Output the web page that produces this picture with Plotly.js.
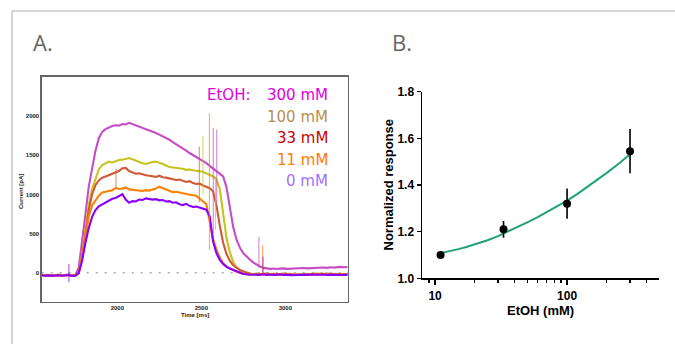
<!DOCTYPE html>
<html><head><meta charset="utf-8">
<script src="https://cdn.plot.ly/plotly-3.0.1.min.js"></script>
<style>html,body{margin:0;padding:0;background:#fff}#chart{width:675px;height:344px}</style>
</head><body><div id="chart"></div>
<script>
// ---------- Panel A: current traces (time in ms, current in pA) ----------
const timeMs = [1550,1570,1590,1610,1630,1650,1670,1690,1710,1730,1750,1770,1790,1810,1830,1850,1870,1890,1910,1930,
1950,1970,1990,2010,2030,2050,2070,2090,2110,2130,2150,2170,2190,2210,2230,2250,2270,2290,2310,2330,
2350,2370,2390,2410,2430,2450,2470,2490,2510,2530,2550,2570,2590,2610,2630,2650,2670,2690,2710,2730,
2750,2770,2790,2810,2830,2850,2870,2890,2910,2930,2950,2970,2990,3010,3030,3050,3070,3090,3110,3130,
3150,3170,3190,3210,3230,3250,3270,3290,3310,3330,3350,3370];

const current300 = [-25,-31,-27,-33,-29,-25,-32,-28,-23,-35,-30,60,380,740,1100,1350,1560,1720,1800,1835,
1860,1875,1885,1880,1900,1895,1915,1900,1880,1865,1850,1840,1820,1800,1785,1765,1745,1730,1700,1670,
1645,1615,1590,1560,1530,1505,1475,1450,1430,1400,1365,1330,1305,1265,1230,1090,850,580,420,320,
250,205,165,130,100,80,62,55,50,55,48,52,56,50,54,58,53,57,61,56,
60,64,59,63,67,62,70,66,72,75,70,74];

const current100 = [-28,-33,-29,-35,-31,-27,-34,-30,-26,-37,-32,-3,230,540,870,1070,1210,1320,1375,1400,
1420,1410,1430,1440,1445,1455,1465,1450,1430,1410,1400,1390,1405,1415,1420,1410,1390,1370,1350,1345,
1340,1335,1330,1315,1320,1310,1305,1300,1290,1270,1250,1230,1190,1070,760,440,260,135,70,35,
15,0,-10,-16,-12,-18,-14,-10,-17,-13,-19,-15,-11,-18,-14,-20,-16,-12,-17,-14,
-19,-13,-16,-20,-15,-12,-18,-14,-17,-13,-19,-15];

const current33 = [-28,-34,-30,-36,-32,-28,-35,-31,-26,-38,-33,-5,200,490,800,1000,1120,1180,1215,1230,
1250,1260,1285,1300,1335,1340,1300,1285,1265,1270,1255,1245,1240,1230,1225,1240,1220,1215,1205,1200,
1185,1190,1175,1160,1170,1145,1135,1140,1115,1100,1080,1040,860,600,380,240,150,95,60,35,
15,0,-12,-18,-14,-20,-16,-12,-19,-15,-21,-17,-13,-20,-16,-22,-18,-14,-19,-16,
-21,-15,-18,-22,-17,-14,-20,-16,-19,-15,-21,-17];

const current11 = [-30,-36,-32,-38,-34,-30,-37,-33,-28,-40,-35,-8,180,440,720,860,930,985,1025,1035,
1050,1055,1085,1070,1075,1090,1065,1060,1055,1050,1045,1055,1050,1065,1075,1100,1080,1060,1045,1030,
1035,1020,1015,1005,995,990,985,945,915,875,650,430,295,195,125,82,55,32,12,-2,
-12,-18,-24,-20,-26,-22,-18,-25,-21,-27,-23,-19,-26,-22,-28,-24,-20,-25,-22,-27,
-21,-24,-28,-23,-20,-26,-22,-25,-21,-27,-23,-25];

const current0 = [-32,-38,-34,-40,-36,-32,-39,-35,-30,-42,-37,-5,150,380,570,715,800,850,875,905,
920,945,955,985,1005,935,895,915,910,935,930,950,945,935,940,925,930,910,915,895,
900,875,865,880,855,840,845,830,820,805,720,400,250,165,110,75,55,35,15,0,
-15,-20,-26,-22,-28,-24,-20,-27,-23,-29,-25,-21,-28,-24,-30,-26,-22,-27,-24,-29,
-23,-26,-30,-25,-22,-28,-24,-27,-23,-29,-25,-27];

const seriesLabels = ['300 mM','100 mM','33 mM','11 mM','0 mM'];
const seriesValues = [current300, current100, current33, current11, current0];
const traceColors = ['#c64cc6','#c8c21e','#d05a36','#ff8000','#8a00ff'];
const labelColors = ['#e000e0','#b39050','#cc0000','#ff7a00','#9f70ff'];

// transient artefact spikes (time, low, high, series)
const spikeTime   = [1712, 1992, 2488, 2510, 2548, 2571, 2585, 2592, 2843, 2865, 2867];
const spikeLow    = [-120, 1090,  900, 1000,  290,  500,  550,  900,   60,  -25,  -25];
const spikeHigh   = [ 110, 1330, 1610, 1750, 2040, 1850, 1230, 1830,  460,  350,  205];
const spikeSeries = ['0 mM','33 mM','33 mM','100 mM','11 mM','300 mM','100 mM','300 mM','300 mM','11 mM','0 mM'];

// ---------- Panel B: dose response ----------
const ethanolMM = [11, 33, 100, 300];
const normResponse = [1.10, 1.21, 1.32, 1.545];
const responseErr = [0.012, 0.036, 0.065, 0.095];
const fitX = [11, 13, 15, 17, 20, 25, 30, 35, 40, 50, 60, 70, 80, 100, 120, 150, 200, 250, 300];
const fitY = [1.108, 1.116, 1.125, 1.133, 1.145, 1.163, 1.181, 1.198, 1.213, 1.240, 1.262, 1.283, 1.301, 1.333, 1.362, 1.400, 1.452, 1.494, 1.532];

const W = 675, H = 344;
const px = v => v / W;
const py = v => 1 - v / H;

const traces = [];
seriesLabels.forEach((lab, i) => {
  traces.push({
    type: 'scatter', mode: 'lines', x: timeMs, y: seriesValues[i], name: lab,
    line: {color: traceColors[i], width: 2.1}, xaxis: 'x', yaxis: 'y',
    showlegend: false, hoverinfo: 'skip'
  });
});
spikeTime.forEach((t, i) => {
  const idx = seriesLabels.indexOf(spikeSeries[i]);
  traces.push({
    type: 'scatter', mode: 'lines', x: [t, t], y: [spikeLow[i], spikeHigh[i]],
    line: {color: traceColors[idx], width: 1}, opacity: 0.75,
    xaxis: 'x', yaxis: 'y', showlegend: false, hoverinfo: 'skip'
  });
});
traces.push({
  type: 'scatter', mode: 'lines', x: fitX, y: fitY, line: {color: '#21a07a', width: 2},
  xaxis: 'x2', yaxis: 'y2', showlegend: false, hoverinfo: 'skip'
});
traces.push({
  type: 'scatter', mode: 'markers', x: ethanolMM, y: normResponse,
  error_y: {type: 'data', array: responseErr, visible: true, color: '#000', thickness: 1.6, width: 0},
  marker: {color: '#000', size: 8}, xaxis: 'x2', yaxis: 'y2', showlegend: false, hoverinfo: 'skip'
});

const smallFont = {family: 'Liberation Sans, Arial, sans-serif', size: 6, color: '#222', weight: 'bold'};
const bFont = {family: 'Liberation Sans, Arial, sans-serif', size: 12, color: '#000', weight: 'bold'};

const annotations = [
  {text: 'A.', x: px(31), y: py(42), xanchor: 'left', yanchor: 'middle', font: {family: 'Open Sans, sans-serif', size: 22, color: '#666'}},
  {text: 'B.', x: px(390), y: py(42), xanchor: 'left', yanchor: 'middle', font: {family: 'Open Sans, sans-serif', size: 22, color: '#666'}},
  {text: 'EtOH:', x: px(205), y: py(95.3), xanchor: 'left', yanchor: 'middle', font: {family: 'DejaVu Sans, sans-serif', size: 15, color: labelColors[0]}},
  {text: 'Current [pA]', x: px(21), y: py(192), textangle: -90, xanchor: 'center', yanchor: 'middle', font: smallFont},
  {text: 'Time [ms]', x: px(195), y: py(315), xanchor: 'center', yanchor: 'middle', font: smallFont},
  {text: 'Normalized response', x: px(388), y: py(184.5), textangle: -90, xanchor: 'center', yanchor: 'middle', font: {family: 'Liberation Sans, Arial, sans-serif', size: 13, color: '#000', weight: 'bold'}},
  {text: 'EtOH (mM)', x: px(540.5), y: py(310), xanchor: 'center', yanchor: 'middle', font: {family: 'Liberation Sans, Arial, sans-serif', size: 13, color: '#000', weight: 'bold'}}
];
const rowY = [95.3, 116.7, 138.1, 159.5, 180.9];
seriesLabels.forEach((lab, i) => {
  annotations.push({text: lab, x: px(330), y: py(rowY[i]), xanchor: 'right', yanchor: 'middle',
    font: {family: 'DejaVu Sans, sans-serif', size: 15, color: labelColors[i]}});
});
annotations.forEach(a => { a.xref = 'paper'; a.yref = 'paper'; a.showarrow = false; });

const layout = {
  width: W, height: H, margin: {l: 0, r: 0, t: 0, b: 0},
  paper_bgcolor: '#fff', plot_bgcolor: '#fff', showlegend: false,
  xaxis: {
    domain: [px(41.7), px(348)], range: [1550, 3373], tickmode: 'array', tickvals: [2000, 2500, 3000],
    showgrid: false, zeroline: false, showline: true, mirror: true, linecolor: '#666', linewidth: 1.3,
    ticks: '', tickfont: smallFont, anchor: 'y'
  },
  yaxis: {
    domain: [py(301.7), py(76.7)], range: [-370, 2505], tickmode: 'array', tickvals: [0, 500, 1000, 1500, 2000],
    showgrid: false, zeroline: false, showline: true, mirror: true, linecolor: '#666', linewidth: 1.3,
    ticks: '', tickfont: smallFont, anchor: 'x'
  },
  xaxis2: {
    domain: [px(422.3), px(659.3)], type: 'log', range: [Math.log10(8), Math.log10(500)],
    tickmode: 'array', tickvals: [10, 100], ticktext: ['10', '100'],
    ticks: 'outside', ticklen: 5, tickwidth: 1.5, tickcolor: '#000',
    minor: {tickmode: 'array', tickvals: [9, 20, 30, 40, 50, 60, 70, 80, 90, 200, 300, 400], ticks: 'outside', ticklen: 3, tickwidth: 1.3, tickcolor: '#000', showgrid: false},
    showgrid: false, zeroline: false, showline: true, linecolor: '#000', linewidth: 1.8,
    tickfont: bFont, anchor: 'y2'
  },
  yaxis2: {
    domain: [py(278.3), py(91.7)], range: [1.0, 1.8], tickmode: 'array', tickvals: [1.0, 1.2, 1.4, 1.6, 1.8],
    ticktext: ['1.0', '1.2', '1.4', '1.6', '1.8'],
    ticks: 'outside', ticklen: 4, tickwidth: 1.5, tickcolor: '#000',
    showgrid: false, zeroline: false, showline: true, linecolor: '#000', linewidth: 1.8,
    tickfont: bFont, anchor: 'x2'
  },
  shapes: [
    {type: 'line', xref: 'paper', yref: 'paper', x0: px(12), x1: 1, y0: py(11), y1: py(11), line: {color: '#d4d4d4', width: 2}},
    {type: 'line', xref: 'paper', yref: 'paper', x0: px(12), x1: px(12), y0: py(11), y1: 0, line: {color: '#d4d4d4', width: 2}},
    {type: 'line', xref: 'x domain', yref: 'y', x0: 0, x1: 1, y0: 0, y1: 0, layer: 'below', line: {color: '#aaa', width: 1.3, dash: '2px,7px'}}
  ],
  annotations: annotations
};

Plotly.newPlot('chart', traces, layout, {displayModeBar: false, staticPlot: true});
</script>
</body></html>
